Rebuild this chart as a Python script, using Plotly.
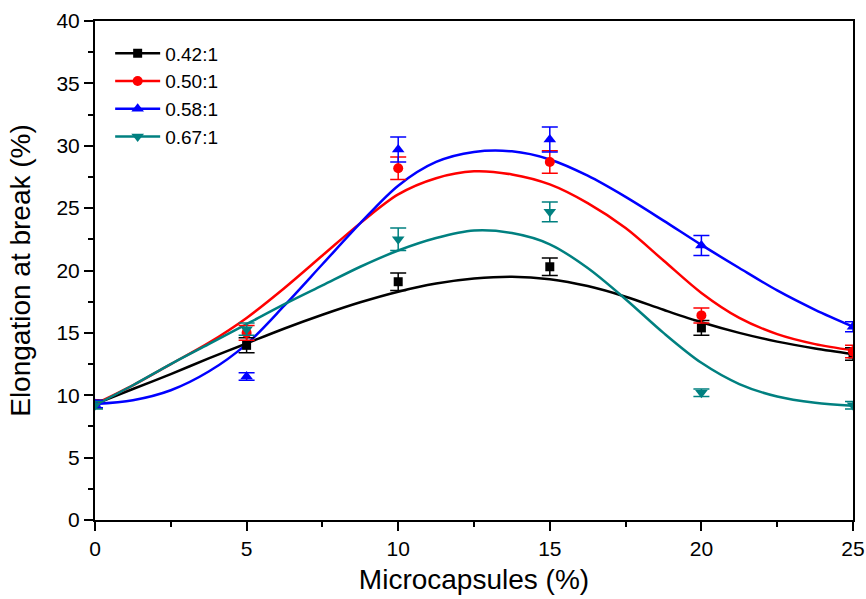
import plotly.graph_objects as go

# measured points
x_pts = [0, 5, 10, 15, 20, 25]
names = ["0.42:1", "0.50:1", "0.58:1", "0.67:1"]
y_042 = [9.3, 14.0, 19.1, 20.3, 15.4, 13.3]
e_042 = [0.3, 0.6, 0.7, 0.7, 0.6, 0.5]
y_050 = [9.3, 15.0, 28.2, 28.7, 16.4, 13.5]
e_050 = [0.3, 0.6, 0.9, 0.9, 0.6, 0.5]
y_058 = [9.3, 11.5, 29.7, 30.5, 22.0, 15.5]
e_058 = [0.3, 0.3, 1.0, 1.0, 0.8, 0.4]
y_067 = [9.2, 15.3, 22.5, 24.7, 10.2, 9.2]
e_067 = [0.3, 0.5, 0.9, 0.8, 0.3, 0.3]

# fitted curves
x_fit = [0, 1.25, 2.5, 3.75, 5, 6.25, 7.5, 8.75, 10, 11.25, 12.5, 13.75,
         15, 16.25, 17.5, 18.75, 20, 21.25, 22.5, 23.75, 25]
f_042 = [9.3, 10.5, 11.7, 12.95, 14.15, 15.35, 16.45, 17.45, 18.3, 18.95, 19.35, 19.5,
         19.3, 18.75, 17.9, 16.85, 15.85, 15.0, 14.3, 13.75, 13.3]
f_050 = [9.3, 10.8, 12.5, 14.2, 16.2, 18.6, 21.2, 23.8, 26.1, 27.4, 27.95, 27.7,
         26.9, 25.4, 23.4, 20.8, 18.2, 16.2, 14.9, 14.1, 13.6]
f_058 = [9.3, 9.6, 10.4, 11.9, 14.1, 17.2, 20.5, 23.8, 26.8, 28.7, 29.5, 29.55,
         28.9, 27.6, 25.9, 24.0, 22.05, 20.2, 18.4, 16.85, 15.5]
f_067 = [9.2, 10.8, 12.5, 14.1, 15.7, 17.3, 18.8, 20.3, 21.6, 22.6, 23.2, 23.0,
         22.1, 20.2, 17.7, 15.0, 12.6, 10.9, 9.9, 9.4, 9.15]

colors = ["#000000", "#FF0000", "#0000FF", "#008080"]
symbols = ["square", "circle", "triangle-up", "triangle-down"]
sizes = [9, 10, 11, 11]

ys = [y_042, y_050, y_058, y_067]
es = [e_042, e_050, e_058, e_067]
fs = [f_042, f_050, f_058, f_067]

FONT = "Liberation Sans, Arial, sans-serif"

fig = go.Figure()
for i in range(4):
    fig.add_trace(go.Scatter(
        x=x_fit, y=fs[i], mode="lines",
        line=dict(color=colors[i], width=2.5, shape="spline", smoothing=0.9),
        showlegend=False, hoverinfo="skip"))
for i in range(4):
    fig.add_trace(go.Scatter(
        x=x_pts, y=ys[i], mode="markers",
        marker=dict(color=colors[i], symbol=symbols[i], size=sizes[i]),
        error_y=dict(type="data", array=es[i], color=colors[i], thickness=1.5, width=8),
        showlegend=False))
for i in range(4):
    fig.add_trace(go.Scatter(
        x=[None], y=[None], mode="lines+markers", name=names[i],
        line=dict(color=colors[i], width=2.5),
        marker=dict(color=colors[i], symbol=symbols[i], size=sizes[i])))

axis_common = dict(
    showline=True, linecolor="#000000", linewidth=2, mirror=True,
    ticks="outside", ticklen=9, tickwidth=1.5, tickcolor="#000000",
    showgrid=False, zeroline=False, automargin=False,
    tickfont=dict(family=FONT, size=21, color="#000000"),
)

fig.update_xaxes(range=[0, 25], dtick=5, tick0=0,
                 minor=dict(ticks="outside", ticklen=5, tickwidth=1.5, tickcolor="#000000", dtick=2.5),
                 title=dict(text="Microcapsules (%)", font=dict(family=FONT, size=28, color="#000000"), standoff=10),
                 **axis_common)
fig.update_yaxes(range=[0, 40], dtick=5, tick0=0,
                 minor=dict(ticks="outside", ticklen=5, tickwidth=1.5, tickcolor="#000000", dtick=2.5),
                 title=dict(text="Elongation at break (%)", font=dict(family=FONT, size=28, color="#000000"), standoff=18),
                 **axis_common)

fig.update_layout(
    width=866, height=599,
    margin=dict(l=95, r=13, t=21, b=79),
    plot_bgcolor="white", paper_bgcolor="white",
    legend=dict(x=0.02, y=0.973, xanchor="left", yanchor="top", bgcolor="rgba(0,0,0,0)",
                font=dict(family=FONT, size=19, color="#000000"),
                tracegroupgap=0, itemwidth=45),
)

# remove the default page margin so the figure fills the 866x599 window exactly
fig.write_html("out.html", config={"displayModeBar": False},
               post_script="document.body.style.margin='0';document.body.style.overflow='hidden';")
